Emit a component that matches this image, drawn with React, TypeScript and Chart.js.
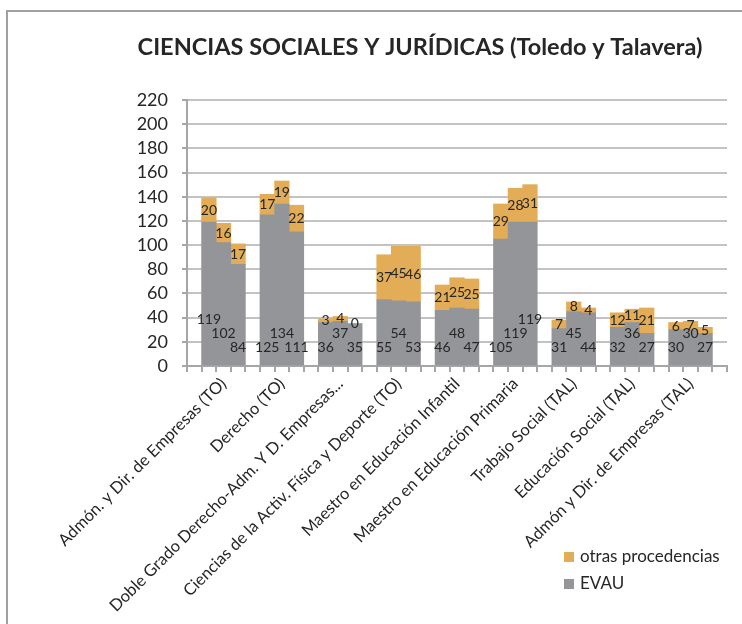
import React, { useEffect, useRef } from "react";
import { Chart, registerables } from "chart.js";

Chart.register(...registerables);

const chartTitle = "CIENCIAS SOCIALES Y JURÍDICAS (Toledo y Talavera)";

const categories = [
  "Admón. y Dir. de Empresas (TO)",
  "Derecho (TO)",
  "Doble Grado Derecho-Adm. Y D. Empresas...",
  "Ciencias de la Activ. Física y Deporte (TO)",
  "Maestro en Educación Infantil",
  "Maestro en Educación Primaria",
  "Trabajo Social (TAL)",
  "Educación Social (TAL)",
  "Admón y Dir. de Empresas (TAL)",
];

// three bars per degree (three successive courses), EVAU part and "otras procedencias" part
const evauBar1 = [119, 125, 36, 55, 46, 105, 31, 32, 30];
const evauBar2 = [102, 134, 37, 54, 48, 119, 45, 36, 30];
const evauBar3 = [84, 111, 35, 53, 47, 119, 44, 27, 27];
const otrasBar1 = [20, 17, 3, 37, 21, 29, 7, 12, 6];
const otrasBar2 = [16, 19, 4, 45, 25, 28, 8, 11, 7];
const otrasBar3 = [17, 22, 0, 46, 25, 31, 4, 21, 5];

const seriesEvau = "EVAU";
const seriesOtras = "otras procedencias";

const yMin = 0;
const yMax = 220;
const yStep = 20;

// stagger level of the EVAU value labels inside each group (label layout only)
const evauLabelStagger = [
  [2, 1, 0],
  [0, 1, 0],
  [0, 1, 0],
  [0, 1, 0],
  [0, 1, 0],
  [0, 1, 2],
  [0, 1, 0],
  [0, 1, 0],
  [0, 1, 0],
];

const COLOR_EVAU = "#939598";
const COLOR_OTRAS = "#e3ad57";
const TEXT = "#262626";
const AXIS = "#a6a6a6";
const GRID = "#c3c3c3";
const FONT = "Lato, 'Open Sans', sans-serif";

// build the slot table: an empty slot before each group and one at the end
const slotLabels: string[] = [""];
const evauSlots: (number | null)[] = [null];
const otrasSlots: (number | null)[] = [null];
const levelSlots: number[] = [0];
const evauBars = [evauBar1, evauBar2, evauBar3];
const otrasBars = [otrasBar1, otrasBar2, otrasBar3];
categories.forEach((cat, g) => {
  for (let k = 0; k < 3; k++) {
    slotLabels.push(k === 1 ? cat : "");
    evauSlots.push(evauBars[k][g]);
    otrasSlots.push(otrasBars[k][g]);
    levelSlots.push(evauLabelStagger[g][k]);
  }
  slotLabels.push("");
  evauSlots.push(null);
  otrasSlots.push(null);
  levelSlots.push(0);
});

const framePlugin = {
  id: "frame",
  beforeDraw(chart: any) {
    const ctx = chart.ctx;
    ctx.save();
    ctx.fillStyle = "#ffffff";
    ctx.fillRect(0, 0, chart.width, chart.height);
    ctx.strokeStyle = "#a0a0a0";
    ctx.lineWidth = 2;
    ctx.beginPath();
    ctx.moveTo(7, chart.height + 5);
    ctx.lineTo(7, 11);
    ctx.lineTo(chart.width + 5, 11);
    ctx.stroke();
    ctx.restore();
  },
};

const titlePlugin = {
  id: "customTitle",
  afterDraw(chart: any) {
    const ctx = chart.ctx;
    ctx.save();
    ctx.font = `bold 23.5px ${FONT}`;
    ctx.fillStyle = TEXT;
    ctx.textAlign = "center";
    ctx.textBaseline = "middle";
    ctx.fillText(chartTitle, 420, 47);
    ctx.restore();
  },
};

const valueLabelPlugin = {
  id: "valueLabels",
  afterDatasetsDraw(chart: any) {
    const ctx = chart.ctx;
    const y0 = chart.scales.y.getPixelForValue(0);
    ctx.save();
    ctx.font = `14px ${FONT}`;
    ctx.fillStyle = TEXT;
    ctx.textAlign = "center";
    ctx.textBaseline = "middle";
    const evMeta = chart.getDatasetMeta(0);
    evMeta.data.forEach((el: any, i: number) => {
      const v = chart.data.datasets[0].data[i];
      if (v === null || v === undefined) return;
      ctx.fillText(String(v), el.x, y0 - 19 - levelSlots[i] * 14);
    });
    const otMeta = chart.getDatasetMeta(1);
    otMeta.data.forEach((el: any, i: number) => {
      const v = chart.data.datasets[1].data[i];
      if (v === null || v === undefined) return;
      ctx.fillText(String(v), el.x, (el.y + el.base) / 2);
    });
    ctx.restore();
  },
};

const legendPlugin = {
  id: "customLegend",
  afterDraw(chart: any) {
    const ctx = chart.ctx;
    const items = [
      { text: chart.data.datasets[1].label, color: chart.data.datasets[1].backgroundColor },
      { text: chart.data.datasets[0].label, color: chart.data.datasets[0].backgroundColor },
    ];
    ctx.save();
    ctx.font = `17px ${FONT}`;
    ctx.textAlign = "left";
    ctx.textBaseline = "middle";
    items.forEach((it, i) => {
      const cy = 557 + i * 27;
      ctx.fillStyle = it.color;
      ctx.fillRect(564, cy - 5, 10, 10);
      ctx.fillStyle = TEXT;
      ctx.fillText(it.text, 580, cy);
    });
    ctx.restore();
  },
};

export default function App() {
  const ref = useRef<HTMLCanvasElement | null>(null);

  useEffect(() => {
    if (!ref.current) return;
    Chart.defaults.font.family = FONT;
    const chart = new Chart(ref.current, {
      type: "bar",
      data: {
        labels: slotLabels,
        datasets: [
          {
            label: seriesEvau,
            data: evauSlots,
            backgroundColor: COLOR_EVAU,
            borderWidth: 0,
          },
          {
            label: seriesOtras,
            data: otrasSlots,
            backgroundColor: COLOR_OTRAS,
            borderWidth: 0,
          },
        ],
      },
      options: {
        responsive: false,
        animation: false,
        devicePixelRatio: 1,
        layout: { padding: { top: 100, right: 15, left: 0, bottom: 0 } },
        datasets: { bar: { barPercentage: 1, categoryPercentage: 1 } },
        plugins: {
          legend: { display: false },
          title: { display: false },
          tooltip: { enabled: false },
        },
        scales: {
          x: {
            stacked: true,
            grid: {
              offset: true,
              drawOnChartArea: false,
              drawTicks: true,
              tickLength: 6,
              color: AXIS,
              lineWidth: 2,
            },
            border: { color: AXIS, width: 2 },
            ticks: {
              autoSkip: false,
              minRotation: 45,
              maxRotation: 45,
              padding: 2,
              color: TEXT,
              font: { family: FONT, size: 16.5 },
            },
            afterFit: (s: any) => {
              s.height = 624 - 366;
            },
          },
          y: {
            stacked: true,
            min: yMin,
            max: yMax,
            ticks: {
              stepSize: yStep,
              autoSkip: false,
              padding: 14,
              color: TEXT,
              font: { family: FONT, size: 18 },
            },
            grid: {
              color: GRID,
              lineWidth: 2,
              tickLength: 5,
              tickColor: AXIS,
            },
            border: { color: AXIS, width: 2 },
            afterFit: (s: any) => {
              s.width = 187;
            },
          },
        },
      },
      plugins: [framePlugin, valueLabelPlugin, titlePlugin, legendPlugin],
    });
    return () => chart.destroy();
  }, []);

  return (
    <div
      style={{
        position: "fixed",
        left: 0,
        top: 0,
        width: 742,
        height: 624,
        overflow: "hidden",
        background: "#fff",
      }}
    >
      <canvas ref={ref} width={742} height={624} style={{ display: "block" }} />
    </div>
  );
}
